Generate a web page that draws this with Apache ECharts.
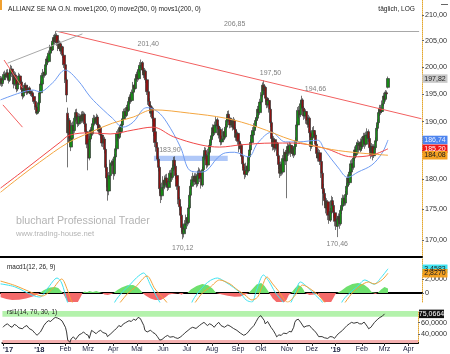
<!DOCTYPE html>
<html><head><meta charset="utf-8">
<script src="https://cdn.jsdelivr.net/npm/echarts@6/dist/echarts.min.js"></script>
<style>html,body{margin:0;padding:0;background:#fff}#c{width:450px;height:354px}</style>
</head><body><div id="c"></div>
<script>
// ---------- DATA ----------
const firstDay = '2017-11-16', lastDay = '2019-04-11';   // business-day axis
const monthNames = ['Jan','Feb','Mrz','Apr','Mai','Jun','Jul','Aug','Sep','Okt','Nov','Dez'];
// daily candles from firstDay: [open, close, low, high]
const ohlc = [
[197.0,197.8,196.5,198.3],[197.8,196.9,196.3,198.2],[196.9,197.6,196.4,198.0],[197.6,198.6,197.2,199.1],[198.6,198.2,197.6,199.3],
[198.2,198.9,197.9,199.5],[198.9,198.4,197.8,199.6],[198.4,197.5,196.9,198.8],[197.5,198.8,197.2,199.4],[198.8,199.6,198.3,200.4],
[199.6,198.7,198.1,200.2],[198.7,196.8,196.0,199.0],[196.8,198.5,196.5,199.2],[198.5,197.6,197.0,199.0],[197.6,195.9,195.3,197.9],
[195.9,196.8,195.5,197.3],[196.8,198.3,196.6,198.9],[198.3,197.2,196.7,198.7],[197.2,195.8,195.1,197.6],[195.8,194.6,194.0,196.2],
[194.6,195.7,194.3,196.1],[195.7,196.6,195.2,197.0],[196.6,196.0,195.4,197.1],[196.0,195.2,194.8,196.5],[195.2,196.1,194.9,196.6],
[196.1,195.5,195.0,196.4],[195.5,195.0,194.6,195.9],[195.0,195.2,194.8,195.6],[195.2,194.5,194.1,195.6],[194.5,193.6,193.2,194.9],
[193.6,192.6,192.1,194.0],[192.6,191.5,191.2,193.0],[191.5,191.8,191.3,192.2],[191.8,193.4,191.5,193.8],[193.4,195.2,193.0,195.6],
[195.2,196.8,195.0,197.3],[196.8,198.4,196.5,198.9],[198.4,199.0,197.9,199.6],[199.0,198.6,198.0,199.8],[198.6,200.4,198.3,200.9],
[200.4,201.5,200.0,202.0],[201.5,201.0,200.5,202.2],[201.0,202.6,200.8,203.1],[202.6,203.8,202.2,204.2],[203.8,203.2,202.7,204.5],
[203.2,204.9,203.0,205.4],[204.9,205.6,204.4,206.1],[205.6,204.8,204.2,206.3],[204.8,206.0,204.5,206.85],[206.0,204.6,204.0,206.4],
[204.6,203.5,203.0,205.2],[203.5,204.4,203.1,205.0],[204.4,203.0,202.4,204.8],[203.0,203.8,202.6,204.3],[203.8,202.2,201.7,204.0],
[202.2,200.4,199.8,202.5],[200.4,197.6,197.0,200.6],[197.6,194.8,193.5,198.0],[191.5,188.0,182.0,192.5],[188.0,190.2,187.0,191.0],
[190.2,186.4,185.8,190.6],[185.5,187.0,184.8,187.8],[187.0,189.3,186.6,189.8],[189.3,188.4,187.8,190.0],[188.4,190.6,188.0,191.0],
[190.6,191.6,190.0,192.2],[191.6,190.8,190.2,192.3],[190.8,189.6,189.0,191.2],[189.6,190.9,189.2,191.5],[190.9,190.1,189.5,191.4],
[190.1,191.2,189.7,191.8],[191.2,190.4,189.8,191.9],[190.4,191.3,190.0,191.8],[191.3,189.6,189.0,191.6],[189.6,188.2,187.6,190.0],
[188.2,186.0,185.3,188.6],[186.0,183.6,181.5,186.3],[183.6,186.9,183.2,187.4],[186.9,188.5,186.4,189.0],[188.5,187.8,187.2,189.2],
[187.8,189.6,187.5,190.2],[189.6,190.6,189.1,191.2],[190.6,189.9,189.3,191.1],[189.9,190.8,189.5,191.4],[190.8,189.4,188.8,191.2],
[189.4,188.3,187.7,189.8],[188.3,188.9,187.9,189.5],[188.9,187.6,187.0,189.3],[187.6,186.2,185.6,188.0],[186.2,186.9,185.5,187.7],
[186.9,185.1,184.4,187.3],[185.1,182.0,181.3,185.4],[182.0,180.2,178.6,182.6],[180.2,178.0,176.4,181.0],[178.0,180.6,177.3,181.2],
[180.6,182.6,180.0,183.3],[182.6,182.8,182.2,183.2],[182.8,183.0,182.3,183.5],[183.0,180.9,179.9,183.4],[180.9,183.8,180.5,184.3],
[183.8,185.2,183.2,185.8],[185.2,187.8,184.8,188.3],[187.8,187.2,186.5,188.6],[187.2,188.9,186.9,189.4],[188.9,188.2,187.6,189.6],
[188.2,189.4,187.9,190.1],[189.4,190.5,189.0,191.1],[190.5,191.8,190.1,192.3],[191.8,191.1,190.5,192.4],[191.1,192.5,190.8,193.0],
[192.5,192.0,191.4,193.2],[192.0,193.6,191.7,194.1],[193.6,194.4,193.1,194.9],[194.4,193.8,193.2,195.0],[193.8,195.3,193.5,195.8],
[195.3,196.6,195.0,197.2],[196.6,196.0,195.4,197.1],[196.0,197.8,195.8,198.3],[197.8,198.6,197.4,199.1],[198.6,197.8,197.2,199.3],
[197.8,199.5,197.5,200.0],[199.5,200.3,199.0,200.9],[200.3,200.8,199.8,201.4],[200.8,199.4,198.8,201.1],[199.4,198.5,197.9,199.9],
[198.5,199.2,198.0,199.8],[199.2,197.6,197.0,199.5],[197.6,195.4,194.8,197.9],[195.4,193.6,193.0,195.8],[193.6,192.8,192.2,194.2],
[192.8,191.5,190.8,193.2],[191.5,192.4,191.0,192.9],[192.4,190.6,190.0,192.7],[190.6,188.2,187.4,190.9],[188.2,186.3,185.5,188.6],
[186.3,185.4,184.7,186.9],[185.4,183.4,182.8,185.8],[183.4,182.0,181.3,183.8],[182.0,178.4,177.6,182.3],[178.4,177.2,176.0,179.2],
[177.2,178.6,176.5,179.4],[178.6,179.8,178.1,180.5],[179.8,179.0,178.3,180.6],[179.0,180.2,178.6,180.8],[180.2,179.3,178.7,180.9],
[179.3,178.6,178.0,179.8],[178.6,179.6,178.2,180.1],[179.6,181.0,179.2,181.5],[181.0,180.3,179.7,181.6],[180.3,181.9,179.9,182.5],
[181.9,183.2,181.4,183.8],[183.2,182.2,181.6,183.9],[182.2,180.6,180.0,182.6],[180.6,178.8,178.2,181.0],[178.8,176.6,175.8,179.1],
[176.6,175.4,174.8,177.0],[175.4,174.0,173.3,175.9],[174.0,172.0,171.3,174.3],[172.0,171.0,170.12,172.6],[171.0,171.8,170.4,172.4],
[171.8,172.6,171.2,173.2],[172.6,173.6,172.2,174.1],[173.6,172.8,172.2,174.2],[172.8,175.2,172.5,175.7],[175.2,177.3,175.0,177.9],
[177.3,178.8,176.9,179.4],[178.8,179.9,178.3,180.5],[179.9,180.5,179.4,181.1],[180.5,179.6,179.0,181.0],[179.6,180.4,179.1,181.0],
[180.4,179.2,178.6,180.9],[179.2,180.6,178.8,181.2],[180.6,181.4,180.0,182.0],[181.4,180.1,179.5,181.8],[180.1,179.0,178.4,180.5],
[179.0,181.6,178.7,182.1],[181.6,183.8,181.3,184.4],[183.8,184.9,183.3,185.5],[184.9,184.0,183.4,185.4],[184.0,182.4,181.8,184.3],
[182.4,184.6,182.0,185.2],[184.6,185.8,184.2,186.3],[185.8,186.8,185.3,187.4],[186.8,187.5,186.2,188.1],[187.5,188.9,187.0,189.5],
[188.9,188.0,187.4,189.4],[188.0,189.4,187.6,190.0],[189.4,190.3,188.9,190.9],[190.3,189.2,188.6,190.7],[189.2,187.6,187.0,189.6],
[187.6,188.6,187.2,189.2],[188.6,186.4,185.8,189.0],[186.4,186.9,185.9,187.5],[186.9,188.2,186.5,188.8],[188.2,187.3,186.7,188.7],
[187.3,189.0,187.0,189.6],[189.0,190.2,188.6,190.8],[190.2,191.3,189.8,191.9],[191.3,190.6,190.0,192.0],[190.6,189.4,188.8,191.0],
[189.4,190.1,188.9,190.7],[190.1,189.0,188.4,190.5],[189.0,190.2,188.7,190.8],[190.2,188.6,188.0,190.5],[188.6,187.2,186.6,189.0],
[187.2,187.9,186.7,188.5],[187.9,186.5,185.9,188.2],[186.5,185.2,184.6,186.9],[185.2,185.8,184.5,186.4],[185.8,183.9,183.3,186.1],
[183.9,182.6,181.9,184.3],[182.6,181.5,180.9,183.0],[181.5,180.8,180.0,182.1],[180.8,182.2,180.3,182.8],[182.2,181.4,180.6,182.7],
[181.4,183.8,181.1,184.4],[183.8,185.0,183.2,185.6],[185.0,186.3,184.6,186.9],[186.3,187.6,185.9,188.2],[187.6,188.4,187.0,189.0],
[188.4,189.1,187.9,189.7],[189.1,190.2,188.6,190.8],[190.2,190.6,189.6,191.2],[190.6,192.2,190.2,192.8],[192.2,191.6,191.0,192.9],
[191.6,193.5,191.2,194.1],[193.5,194.8,193.0,195.3],[194.8,196.6,194.4,197.1],[196.6,195.6,195.0,197.5],[195.6,196.2,194.8,196.8],
[196.2,194.2,193.5,196.5],[194.2,193.0,192.4,194.6],[193.0,193.8,192.5,194.4],[193.8,192.2,191.6,194.1],[192.2,189.8,189.0,192.5],
[189.8,187.0,186.2,190.1],[187.0,185.6,184.9,187.5],[185.6,186.8,185.0,187.4],[186.8,185.3,184.6,187.1],[185.3,186.2,184.9,186.8],
[186.2,184.0,183.4,186.4],[184.0,182.5,181.7,184.3],[182.5,181.0,180.2,182.9],[181.0,182.4,180.5,183.0],[182.4,181.2,180.6,182.8],
[181.2,183.5,180.8,184.1],[183.5,184.6,183.0,185.2],[184.6,183.1,182.4,185.0],[183.1,184.4,176.8,185.0],[184.4,185.6,183.9,186.2],
[185.6,184.6,184.0,186.0],[184.6,185.8,184.2,186.4],[185.8,184.4,183.8,186.2],[184.4,185.2,183.9,185.8],[185.2,184.2,183.6,185.6],
[184.2,185.6,183.9,186.2],[185.6,186.6,185.1,187.2],[186.6,189.4,186.3,190.0],[189.4,192.0,189.0,192.6],[192.0,191.2,190.6,192.8],
[191.2,193.2,190.8,193.8],[193.2,193.9,192.6,194.66],[193.9,192.4,191.8,194.2],[192.4,191.0,190.3,192.8],[191.0,191.8,190.5,192.4],
[191.8,190.2,189.6,192.2],[190.2,189.5,188.9,190.8],[189.5,190.6,189.0,191.2],[190.6,188.0,187.2,190.9],[188.0,185.6,184.8,188.3],
[185.6,187.2,185.2,187.8],[187.2,188.4,186.8,189.0],[188.4,187.6,187.0,189.2],[187.6,186.0,185.4,188.0],[186.0,184.4,183.6,186.4],
[184.4,183.6,183.0,185.0],[183.6,184.5,183.2,185.2],[184.5,183.0,182.4,185.0],[183.0,181.0,180.2,183.3],[181.0,178.4,175.6,181.4],
[178.4,177.6,176.8,179.2],[177.6,176.4,175.6,178.1],[176.4,175.2,174.3,177.0],[175.2,176.2,174.8,176.8],[176.2,174.0,173.2,176.5],
[174.0,173.2,172.6,174.6],[173.2,174.6,172.9,175.2],[174.6,176.4,174.2,177.2],[176.4,175.6,175.0,177.0],[175.6,174.4,173.6,176.0],
[174.4,173.0,172.2,174.8],[173.0,172.2,171.6,173.6],[172.2,173.4,170.46,173.9],[173.4,173.8,173.0,174.3],[173.8,172.6,171.8,174.2],
[172.6,174.8,172.3,175.4],[174.8,175.6,174.2,176.3],[175.6,176.8,175.0,177.4],[176.8,176.0,175.4,177.3],[176.0,177.4,175.6,178.0],
[177.4,178.8,177.0,179.4],[178.8,180.2,178.4,180.8],[180.2,179.4,178.8,180.8],[179.4,181.2,179.0,181.8],[181.2,182.6,180.8,183.2],
[182.6,182.0,181.3,183.4],[182.0,183.6,181.6,184.2],[183.6,185.0,183.1,185.6],[185.0,184.2,183.6,185.6],[184.2,185.8,183.8,186.4],
[185.8,186.2,185.0,186.8],[186.2,185.0,184.4,186.6],[185.0,186.4,184.6,187.0],[186.4,185.6,184.8,187.3],[185.6,186.8,185.2,187.4],
[186.8,187.4,186.2,188.0],[187.4,186.0,185.2,188.0],[186.0,187.6,185.6,188.2],[187.6,188.2,187.0,188.8],[188.2,187.0,186.4,188.6],
[187.0,185.4,184.8,187.4],[185.4,184.2,183.5,185.8],[184.2,185.6,183.8,186.2],[185.6,184.0,183.2,186.0],[184.0,185.4,183.6,186.0],
[185.4,186.6,185.0,187.2],[186.6,188.8,186.3,189.4],[188.8,189.8,188.3,190.4],[189.8,191.6,189.4,192.2],[191.6,192.4,191.0,193.0],
[192.4,191.8,191.2,193.0],[191.8,193.2,191.5,193.8],[193.2,194.6,192.8,195.2],[194.6,194.0,193.4,195.4],[194.0,195.2,193.6,195.7],
[195.2,195.0,194.2,195.6],[196.2,197.82,196.0,198.2]
];
// moving averages: [day index, price]
const ma50 = [[0,193.9],[17,195.2],[28,195.7],[34,195.4],[45,197.0],[56,199.4],[67,197.5],[78,194.4],[89,192.1],[97,190.6],[106,189.0],[115,189.9],[123,192.1],[127,192.5],[136,191.8],[144,189.9],[156,185.5],[164,181.5],[173,181.2],[179,181.5],[188,183.6],[195,184.5],[203,184.6],[215,183.8],[223,186.2],[235,188.1],[247,186.4],[258,186.4],[275,186.7],[281,185.0],[293,181.9],[301,180.3],[310,181.2],[322,182.4],[331,184.5],[336,186.74]];
const ma200 = [[0,178.5],[17,181.0],[34,183.6],[52,186.4],[60,187.6],[78,188.0],[95,187.8],[115,188.5],[132,189.0],[150,187.3],[173,185.9],[190,185.5],[209,185.9],[236,186.2],[253,186.2],[281,185.3],[305,183.8],[322,184.1],[336,185.20]];
const mas200 = [[0,177.8],[17,180.4],[34,182.9],[58,186.2],[78,188.1],[97,189.7],[115,190.8],[132,192.1],[164,191.5],[195,190.6],[223,189.0],[253,186.7],[281,185.3],[305,184.6],[336,184.08]];
// MACD (12,26,9)
const macdLine = [[0,1.3],[12,0.9],[28,-0.35],[34,-0.57],[41,0.71],[49,2.14],[53,1.43],[58,-1.3],[63,-3.2],[70,-3.8],[82,-2.5],[90,-2.6],[95,-3.2],[99,-1.3],[106,0.2],[112,1.14],[118,2.2],[124,2.86],[130,1.14],[138,-1.3],[147,-3.6],[155,-4.4],[160,-4.5],[166,-1.3],[171,0],[177,1.14],[182,1.8],[188,2.14],[195,1.57],[202,0.8],[208,0],[213,-1.0],[218,-1.3],[222,0.43],[228,2.57],[233,1.6],[238,0.14],[245,-1.3],[248,-2.0],[252,-1.3],[256,0.3],[260,1.57],[267,0.71],[273,-0.29],[279,-1.3],[286,-3.5],[293,-3.0],[296,-1.3],[302,-0.1],[309,0.86],[316,1.86],[324,1.25],[330,2.2],[336,3.4583]];
const signalLine = [[0,1.7],[12,1.1],[28,0],[36,-0.43],[45,0.57],[53,2.0],[58,0.43],[62,-1.3],[70,-2.8],[78,-3.0],[88,-2.7],[95,-2.8],[104,-1.3],[110,-0.1],[117,0.86],[127,2.43],[134,0.57],[144,-1.3],[150,-2.8],[156,-3.6],[163,-2.6],[169,-1.3],[175,0],[182,0.86],[190,1.86],[199,1.29],[205,0.5],[212,-0.29],[218,-1.0],[223,-0.57],[227,1.0],[231,2.29],[236,1.3],[241,0.29],[249,-1.3],[255,-0.43],[262,1.14],[270,0.43],[276,-0.4],[281,-1.3],[290,-3.3],[299,-1.3],[306,0.2],[313,1.14],[319,1.57],[324,1.3],[331,1.9],[336,2.827]];
const histUp = [[34,0],[37,0.35],[40,0.6],[43,0.8],[47,0.86],[50,0.7],[52,0.35],[54,0],[71,0],[73,0.2],[75,0.1],[77,0.3],[80,0.15],[83,0.3],[86,0.1],[88,0],[98,0],[101,0.4],[105,0.8],[110,1.1],[115,1.14],[119,0.8],[122,0.3],[123,0],[162,0],[165,0.5],[170,1.0],[175,1.29],[180,1.1],[184,0.6],[187,0],[215,0],[218,0.5],[222,1.2],[226,1.43],[229,1.0],[232,0.3],[233,0],[252,0],[255,0.6],[258,1.14],[261,0.9],[263,0.4],[264,0],[292,0],[296,0.4],[300,0.9],[305,1.3],[310,1.43],[315,1.2],[319,0.7],[322,0.1],[323,0],[327,0],[330,0.5],[333,0.86],[336,0.63]];
const histDown = [[0,-0.6],[5,-0.85],[10,-1.0],[16,-0.95],[22,-0.8],[28,-0.5],[32,-0.2],[34,0],[54,0],[56,-0.6],[58,-1.2],[61,-1.8],[64,-1.9],[67,-1.3],[70,-0.4],[71,0],[88,0],[90,-0.2],[93,-0.3],[96,-0.15],[98,0],[123,0],[126,-0.4],[130,-0.8],[134,-1.0],[139,-1.0],[143,-0.6],[146,-0.2],[147,0],[154,0],[157,-0.25],[159,0],[187,0],[192,-0.2],[197,-0.4],[203,-0.55],[208,-0.5],[212,-0.2],[215,0],[233,0],[236,-0.8],[240,-1.4],[244,-1.6],[248,-1.0],[250,-0.3],[252,0],[264,0],[268,-0.3],[272,-0.2],[275,0],[278,-0.8],[282,-1.6],[286,-1.5],[289,-0.6],[291,0],[323,0],[325,-0.15],[327,0]];
// RSI (14)
const rsi = [[0,52],[2,56],[4,58],[6,54],[8,52],[10,57],[12,55],[14,51],[17,49.5],[19,53],[21,55],[23,50],[26,46.7],[28,42],[30,38.3],[31,41],[33,44],[35,51],[36,55],[38,60],[40,63.3],[42,62],[44,66],[46,69],[48,68],[50,66],[52,63],[53,60.5],[55,52],[56,44],[57,30],[58,27],[59,26],[60,32],[62,35.6],[64,31],[65,33],[67,39],[69,41],[71,44],[73,40],[75,38.3],[76,33],[78,46.7],[80,44],[82,41],[84,45],[86,46.7],[88,43],[91,41],[92,36],[93,38],[95,41],[98,46.7],[100,50],[102,55],[104,53],[106,57.8],[108,60],[111,63.3],[113,62],[115,66],[117,64],[119,69],[121,67],[122,63],[124,55],[125,46.7],[127,44],[130,47],[132,43],[134,41],[136,36],[138,30],[140,31],[141,33],[143,36],[145,38],[147,35],[150,36],[152,34],[154,32.8],[156,35],[158,38],[160,42],[163,46.7],[165,50],[167,52],[170,50],[173,55],[175,58],[177,60.5],[180,55],[182,58],[184,56],[186,52],[188,57],[190,60.5],[192,55],[195,52],[198,56],[200,54],[203,50],[206,46.7],[209,42],[212,38.3],[214,40],[216,44],[218,49],[221,55],[223,62],[225,69],[227,72],[228,74.5],[230,64],[231,57.8],[233,62],[234,60],[236,52],[238,46.7],[240,40],[241,35.6],[243,39],[245,38],[247,42],[248,39],[250,41],[252,45],[254,44],[256,52],[257,60.5],[258,64],[260,66],[262,61],[263,57.8],[265,52],[267,54],[270,55],[272,50],[274,46.7],[276,42],[278,36],[279,32.8],[281,36],[283,34],[286,32.8],[288,36],[290,35.6],[292,33],[294,38.3],[296,42],[299,46.7],[301,51],[303,55],[305,58],[307,60.5],[309,59],[312,60.5],[314,58],[316,57.8],[318,61],[319,60.5],[321,53],[322,49.5],[324,52],[325,55],[327,60],[328,63.3],[330,66],[332,69],[334,71],[336,75.0664]];
// axis ticks
const priceTicks = [170,175,180,185,190,195,200,205,210];
const macdTicks = [0,2];
const rsiTicks = [40,60];
// drawing objects: trend lines [[idx,price],[idx,price]], band, annotations [idx, price, text]
const trendLines = [
  {pts:[[48,206.85],[365,190.5]], color:'#f26060'},
  {pts:[[48,206.85],[363,206.85]], color:'#a8a8a8'},
  {pts:[[6,200.7],[71,206.3]], color:'#a8a8a8'},
  {pts:[[3,201.3],[19,196.1]], color:'#f26060'},
  {pts:[[2,193.0],[19,189.0]], color:'#f26060'}
];
const band = [[133,184.0],[197,183.1]];
const notes = [[203,206.85,'206,85',0,-7],[122,201.4,'201,40',7,-15],[228,197.5,'197,50',7,-7],[261,194.66,'194,66',14,-7],[133,183.9,'183,90',16,-6],[158,170.12,'170,12',0,9],[292,170.46,'170,46',0,7]];

// ---------- BUILD ----------
const LN = Math.log;
const fmt = (v,d)=>v.toFixed(d).replace('.',',');
const dates = [];
for (let t = Date.parse(firstDay+'T00:00:00Z'); t <= Date.parse(lastDay+'T00:00:00Z'); t += 86400000) {
  const d = new Date(t), w = d.getUTCDay();
  if (w > 0 && w < 6) dates.push(d.toISOString().slice(0,10));
}
const labelIdx = new Set([0]);
for (let i = 1; i < dates.length; i++) {
  if (dates[i].slice(5,7) !== dates[i-1].slice(5,7) && dates[i] >= '2018-01-01') labelIdx.add(i);
}
const showIdx = (i)=>labelIdx.has(i);
const last = ohlc.length - 1;
const lnPairs = arr => arr.map(p=>[p[0], LN(p[1])]);
const font = 'Liberation Sans, Arial, sans-serif';
const tagX = 47;
function tag(idx, val, text, bg, fg) {
  return {coord:[idx, val], value:text, symbol:'rect', symbolSize:[25,8.5], symbolOffset:[tagX,0],
    itemStyle:{color:bg}, label:{show:true, formatter:text, color:fg, fontSize:7, fontFamily:font, position:'inside'}};
}
const xBase = (gi, show) => ({type:'category', gridIndex:gi, data:dates, boundaryGap:true,
  axisLine:{show:true, lineStyle:{color:'#000', width:2}},
  axisTick:{show:show, interval:showIdx, alignWithLabel:true, length:3, lineStyle:{color:'#333'}},
  axisLabel:{show:show, interval:showIdx, fontSize:7, color:'#1a2040', fontFamily:font, margin:3, alignMinLabel:'left',
    formatter:(v,i)=>{ const m=v.slice(5,7); if(i===0||m==='01') return "{y|'"+v.slice(2,4)+"}"; return monthNames[+m-1]; },
    rich:{y:{fontWeight:'bold', fontSize:7.5, color:'#1a2040', fontFamily:font}}},
  splitLine:{show:false}});
const yLine = {show:true, lineStyle:{color:'#e4a830', type:'dotted', width:1}};

const option = {
  animation:false,
  textStyle:{fontFamily:font},
  title:[
    {text:'ALLIANZ SE NA O.N. move1(200, 0) move2(50, 0) movs1(200, 0)', left:3, top:1, textStyle:{fontSize:6.6, fontWeight:'normal', color:'#222', fontFamily:font}},
    {text:'täglich, LOG', right:30, top:1, textStyle:{fontSize:6.6, fontWeight:'normal', color:'#222', fontFamily:font}},
    {text:'macd1(12, 26, 9)', left:2, top:259, textStyle:{fontSize:6.4, fontWeight:'normal', color:'#222', fontFamily:font}},
    {text:'rsi1(14, 70, 30, 1)', left:2, top:304, textStyle:{fontSize:6.4, fontWeight:'normal', color:'#222', fontFamily:font}}
  ],
  graphic:[
    {type:'rect', left:0, top:0, shape:{width:2, height:10}, style:{fill:'#f0a030'}},
    {type:'rect', left:441, top:4, shape:{width:7, height:1}, style:{fill:'#666'}},
    {type:'text', left:16, top:216, style:{text:'bluchart Professional Trader', fill:'#b4b4b4', font:'10.7px '+font}},
    {type:'text', left:16, top:230, style:{text:'www.trading-house.net', fill:'#b4b4b4', font:'7.7px '+font}}
  ],
  grid:[
    {left:0, right:28, top:0, height:257},
    {left:0, right:28, top:258, height:44},
    {left:0, right:28, top:311, height:32}
  ],
  xAxis:[xBase(0,false), xBase(1,false), xBase(2,true)],
  yAxis:[
    {type:'value', gridIndex:0, position:'right', min:LN(170)-17/1065, max:LN(170)+240/1065,
      splitLine:{show:false}, axisLine:yLine,
      axisTick:{show:true, customValues:priceTicks.map(LN), length:2, lineStyle:{color:'#666'}},
      axisLabel:{customValues:priceTicks.map(LN), formatter:v=>fmt(Math.exp(v),2), fontSize:7.2, color:'#333', margin:3}},
    {type:'value', gridIndex:1, position:'right', min:-1.286, max:5.0,
      splitLine:{show:false}, axisLine:yLine,
      axisTick:{show:true, customValues:macdTicks, length:2, lineStyle:{color:'#666'}},
      axisLabel:{customValues:macdTicks, formatter:v=>v===0?'0':fmt(v,4), fontSize:7.2, color:'#333', margin:3}},
    {type:'value', gridIndex:2, position:'right', min:25, max:80,
      splitLine:{show:false}, axisLine:yLine,
      axisTick:{show:true, customValues:rsiTicks, length:2, lineStyle:{color:'#666'}},
      axisLabel:{customValues:rsiTicks, formatter:v=>fmt(v,4), fontSize:7.2, color:'#333', margin:3}}
  ],
  series:[
    {type:'candlestick', xAxisIndex:0, yAxisIndex:0, barWidth:2.7,
      data:ohlc.map(r=>r.map(LN)),
      itemStyle:{color:'#178a17', color0:'#8c1212', borderColor:'#3a3a3a', borderColor0:'#3a3a3a', borderWidth:0.7},
      markArea:{silent:true, itemStyle:{color:'rgba(150,182,245,0.75)'},
        data:[[{coord:[band[0][0], LN(band[0][1])]},{coord:[band[1][0], LN(band[1][1])]}]]},
      markLine:{silent:true, symbol:'none', label:{show:false}, animation:false,
        data:trendLines.map(t=>[{coord:[t.pts[0][0], LN(t.pts[0][1])], lineStyle:{color:t.color, width:1, type:'solid'}},{coord:[t.pts[1][0], LN(t.pts[1][1])]}])},
      markPoint:{silent:true, data:[
        ...notes.map(n=>({coord:[n[0], LN(n[1])], value:n[2], symbol:'circle', symbolSize:0.1, itemStyle:{color:'rgba(0,0,0,0)'},
          label:{show:true, formatter:n[2], color:'#808080', fontSize:7, position:'inside', offset:[n[3],n[4]]}})),
        tag(last, LN(ohlc[last][1]), fmt(ohlc[last][1],2), '#c9c9c9', '#222')
      ]}},
    {type:'line', xAxisIndex:0, yAxisIndex:0, data:lnPairs(ma50), smooth:0.35, showSymbol:false, lineStyle:{color:'#6f9cf2', width:1},
      markPoint:{silent:true, data:[tag(last, LN(186.74), '186,74', '#4d84ee', '#e8f0ff')]}},
    {type:'line', xAxisIndex:0, yAxisIndex:0, data:lnPairs(ma200), smooth:0.35, showSymbol:false, lineStyle:{color:'#f04848', width:1},
      markPoint:{silent:true, data:[tag(last, LN(185.20), '185,20', '#f01818', '#fff')]}},
    {type:'line', xAxisIndex:0, yAxisIndex:0, data:lnPairs(mas200), smooth:0.35, showSymbol:false, lineStyle:{color:'#f4a640', width:1},
      markPoint:{silent:true, data:[tag(last, LN(184.08), '184,08', '#f4a020', '#222')]}},
    {type:'line', xAxisIndex:1, yAxisIndex:1, data:histUp, showSymbol:false, lineStyle:{width:0}, areaStyle:{color:'#6ee06e', opacity:1}},
    {type:'line', xAxisIndex:1, yAxisIndex:1, data:histDown, showSymbol:false, lineStyle:{width:0}, areaStyle:{color:'#f46a6a', opacity:1}},
    {type:'line', xAxisIndex:1, yAxisIndex:1, data:macdLine, smooth:0.3, showSymbol:false, lineStyle:{color:'#3fe2f0', width:1},
      markPoint:{silent:true, data:[tag(last, 3.4583, '3,4583', '#40e4f2', '#222')]}},
    {type:'line', xAxisIndex:1, yAxisIndex:1, data:signalLine, smooth:0.3, showSymbol:false, lineStyle:{color:'#f2a23a', width:1},
      markPoint:{silent:true, data:[tag(last, 2.827, '2,8270', '#f2a020', '#222')]}},
    {type:'line', xAxisIndex:2, yAxisIndex:2, data:rsi, showSymbol:false, lineStyle:{color:'#222', width:0.9},
      markArea:{silent:true, data:[
        [{yAxis:70, itemStyle:{color:'#b4f2ac'}},{yAxis:80}],
        [{yAxis:25, itemStyle:{color:'#f4b0b0'}},{yAxis:30}]
      ]},
      markPoint:{silent:true, data:[tag(last, 75.0664, '75,0664', '#111', '#fff')]}}
  ]
};
const chart = echarts.init(document.getElementById('c'), null, {renderer:'canvas'});
chart.setOption(option);
</script>
</body></html>
